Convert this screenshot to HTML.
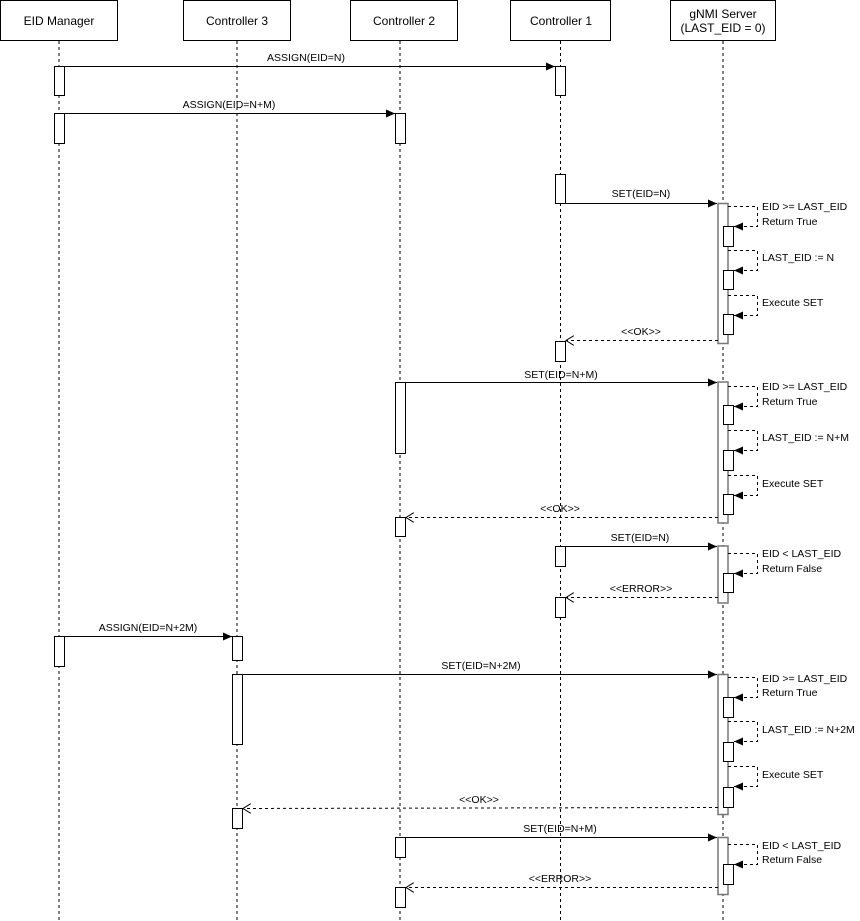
<!DOCTYPE html>
<html><head><meta charset="utf-8"><style>
html,body{margin:0;padding:0;background:#fff;}
svg{display:block;font-family:"Liberation Sans",Helvetica,Arial,sans-serif;font-size:11px;}
</style></head><body>
<svg width="860" height="921" viewBox="0 0 860 921" xmlns="http://www.w3.org/2000/svg">
<defs>
<marker id="f" markerWidth="10" markerHeight="8" refX="9" refY="4" orient="auto" markerUnits="userSpaceOnUse"><path d="M0,0 L9,4 L0,8 Z" fill="#000"/></marker>
<marker id="o" markerWidth="10" markerHeight="10" refX="8" refY="5" orient="auto" markerUnits="userSpaceOnUse"><path d="M0,0 L8,5 L0,10" fill="none" stroke="#000" stroke-dasharray="none"/></marker>
</defs>
<g stroke="#000" fill="#fff">
<rect x="0.5" y="0.5" width="117" height="40"/>
<rect x="183.5" y="0.5" width="107" height="40"/>
<rect x="350.5" y="0.5" width="107" height="40"/>
<rect x="510.5" y="0.5" width="100" height="40"/>
<rect x="670.5" y="0.5" width="105" height="40"/>
</g>
<g fill="#000" text-anchor="middle" font-size="12">
<text x="59" y="25">EID Manager</text>
<text x="237" y="25">Controller 3</text>
<text x="404" y="25">Controller 2</text>
<text x="561" y="25">Controller 1</text>
<text x="723" y="18">gNMI Server</text>
<text x="723" y="32">(LAST_EID = 0)</text>
</g>
<g stroke="#000" stroke-dasharray="3,3">
<line x1="59" y1="41" x2="59" y2="921"/>
<line x1="237" y1="41" x2="237" y2="921"/>
<line x1="400" y1="41" x2="400" y2="921"/>
<line x1="560.5" y1="41" x2="560.5" y2="921"/>
<line x1="723" y1="41" x2="723" y2="921"/>
</g>
<g stroke="#000" fill="#fff">
<rect x="54.5" y="66.5" width="10" height="29"/>
<rect x="54.5" y="113.5" width="10" height="30"/>
<rect x="54.5" y="636.5" width="10" height="30"/>
<rect x="555.5" y="66.5" width="10" height="29"/>
<rect x="555.5" y="174.5" width="10" height="29"/>
<rect x="555.5" y="341.5" width="10" height="20"/>
<rect x="555.5" y="546.5" width="10" height="20"/>
<rect x="555.5" y="597.5" width="10" height="20"/>
<rect x="395.5" y="113.5" width="10" height="30"/>
<rect x="395.5" y="382.5" width="10" height="71"/>
<rect x="395.5" y="517.5" width="10" height="19"/>
<rect x="395.5" y="837.5" width="10" height="20"/>
<rect x="395.5" y="887.5" width="10" height="20"/>
<rect x="232.5" y="636.5" width="10" height="24"/>
<rect x="232.5" y="674.5" width="10" height="70"/>
<rect x="232.5" y="808.5" width="10" height="20"/>
</g>
<g stroke="#777" stroke-width="1.5" fill="#fff">
<rect x="718" y="203.5" width="10" height="140"/>
<rect x="718" y="382" width="10" height="141"/>
<rect x="718" y="546" width="10" height="57"/>
<rect x="718" y="674.5" width="10" height="140"/>
<rect x="718" y="837.5" width="10" height="57"/>
</g>
<g stroke="#000" fill="#fff">
<rect x="723.5" y="226.5" width="10" height="20"/>
<rect x="723.5" y="270.5" width="10" height="19"/>
<rect x="723.5" y="314.5" width="10" height="20"/>
<rect x="723.5" y="405.5" width="10" height="19"/>
<rect x="723.5" y="450.5" width="10" height="20"/>
<rect x="723.5" y="494.5" width="10" height="20"/>
<rect x="723.5" y="573.5" width="10" height="19"/>
<rect x="723.5" y="697.5" width="10" height="20"/>
<rect x="723.5" y="742.5" width="10" height="19"/>
<rect x="723.5" y="787.5" width="10" height="20"/>
<rect x="723.5" y="864.5" width="10" height="20"/>
</g>
<g stroke="#000" fill="none" stroke-dasharray="3,3">
<polyline points="728,206.5 757.5,206.5 757.5,226.5 734,226.5" marker-end="url(#f)"/>
<polyline points="728,250.5 757.5,250.5 757.5,270.5 734,270.5" marker-end="url(#f)"/>
<polyline points="728,295.5 757.5,295.5 757.5,315.5 734,315.5" marker-end="url(#f)"/>
<polyline points="728,386.5 757.5,386.5 757.5,406.5 734,406.5" marker-end="url(#f)"/>
<polyline points="728,430.5 757.5,430.5 757.5,450.5 734,450.5" marker-end="url(#f)"/>
<polyline points="728,475.5 757.5,475.5 757.5,495.5 734,495.5" marker-end="url(#f)"/>
<polyline points="728,553.5 757.5,553.5 757.5,573.5 734,573.5" marker-end="url(#f)"/>
<polyline points="728,677.5 757.5,677.5 757.5,697.5 734,697.5" marker-end="url(#f)"/>
<polyline points="728,721.5 757.5,721.5 757.5,741.5 734,741.5" marker-end="url(#f)"/>
<polyline points="728,766.5 757.5,766.5 757.5,786.5 734,786.5" marker-end="url(#f)"/>
<polyline points="728,844.5 757.5,844.5 757.5,864.5 734,864.5" marker-end="url(#f)"/>
</g>
<g fill="#000" font-size="10.5">
<text x="762" y="210">EID &gt;= LAST_EID</text><text x="762" y="225">Return True</text>
<text x="762" y="261">LAST_EID := N</text>
<text x="762" y="306">Execute SET</text>
<text x="762" y="390">EID &gt;= LAST_EID</text><text x="762" y="405">Return True</text>
<text x="762" y="441">LAST_EID := N+M</text>
<text x="762" y="487">Execute SET</text>
<text x="762" y="557">EID &lt; LAST_EID</text><text x="762" y="572">Return False</text>
<text x="762" y="682">EID &gt;= LAST_EID</text><text x="762" y="696">Return True</text>
<text x="762" y="733">LAST_EID := N+2M</text>
<text x="762" y="778">Execute SET</text>
<text x="762" y="849">EID &lt; LAST_EID</text><text x="762" y="863">Return False</text>
</g>
<g stroke="#000" fill="none">
<line x1="64" y1="66.5" x2="555" y2="66.5" marker-end="url(#f)"/>
<line x1="64" y1="113.5" x2="395" y2="113.5" marker-end="url(#f)"/>
<line x1="566" y1="203.5" x2="717" y2="203.5" marker-end="url(#f)"/>
<line x1="405" y1="382.5" x2="717" y2="382.5" marker-end="url(#f)"/>
<line x1="566" y1="546.5" x2="717" y2="546.5" marker-end="url(#f)"/>
<line x1="64" y1="636.5" x2="232" y2="636.5" marker-end="url(#f)"/>
<line x1="242" y1="674.5" x2="717" y2="674.5" marker-end="url(#f)"/>
<line x1="405" y1="837.5" x2="717" y2="837.5" marker-end="url(#f)"/>
</g>
<g stroke="#000" fill="none" stroke-dasharray="3,3">
<line x1="718" y1="340.5" x2="566" y2="340.5" marker-end="url(#o)"/>
<line x1="718" y1="517.5" x2="406" y2="517.5" marker-end="url(#o)"/>
<line x1="718" y1="597.5" x2="566" y2="597.5" marker-end="url(#o)"/>
<line x1="718" y1="807.5" x2="243" y2="808.5" marker-end="url(#o)"/>
<line x1="718" y1="887.5" x2="406" y2="887.5" marker-end="url(#o)"/>
</g>
<g fill="#000" font-size="10.5" text-anchor="middle">
<text x="306" y="61">ASSIGN(EID=N)</text>
<text x="229" y="108">ASSIGN(EID=N+M)</text>
<text x="641" y="197">SET(EID=N)</text>
<text x="641" y="335">&lt;&lt;OK&gt;&gt;</text>
<text x="561" y="378">SET(EID=N+M)</text>
<text x="560" y="512">&lt;&lt;OK&gt;&gt;</text>
<text x="640" y="541">SET(EID=N)</text>
<text x="641" y="592">&lt;&lt;ERROR&gt;&gt;</text>
<text x="148" y="631">ASSIGN(EID=N+2M)</text>
<text x="481" y="669">SET(EID=N+2M)</text>
<text x="479" y="803">&lt;&lt;OK&gt;&gt;</text>
<text x="560" y="832">SET(EID=N+M)</text>
<text x="560" y="882">&lt;&lt;ERROR&gt;&gt;</text>
</g>
</svg>
</body></html>
